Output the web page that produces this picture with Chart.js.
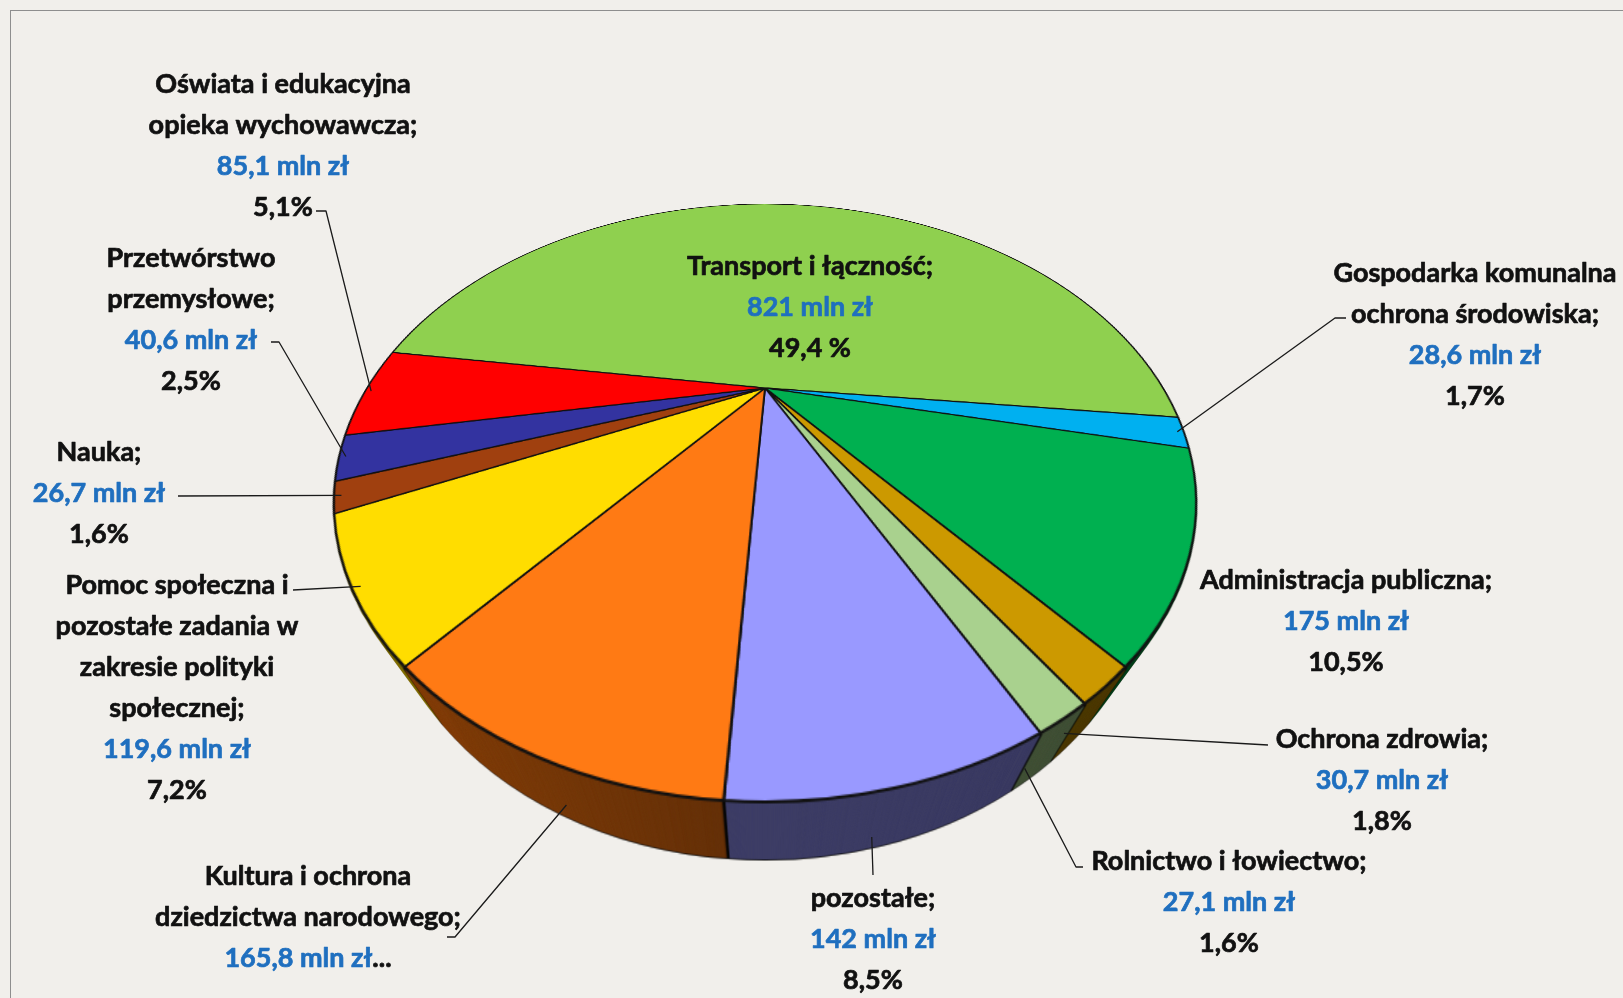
<!DOCTYPE html>
<html lang="pl">
<head>
<meta charset="utf-8">
<title>Struktura wydatków</title>
<script src="https://cdn.jsdelivr.net/npm/chart.js@4.4.1/dist/chart.umd.min.js"></script>
<style>
    html, body { margin: 0; padding: 0; overflow: hidden; background: #f1efeb; }
    #ramka { position: absolute; left: 10px; top: 10px; width: 1700px; height: 1100px; border: 1px solid #8e8e8e; }
    #wykres { position: absolute; left: 0; top: 0; }
</style>
</head>
<body>
<div id="ramka"></div>
<canvas id="wykres" width="1623" height="998"></canvas>
<script>
// Dane wykresu
const kategorie = [
    ['Transport i łączność'],
    ['Gospodarka komunalna', 'ochrona środowiska'],
    ['Administracja publiczna'],
    ['Ochrona zdrowia'],
    ['Rolnictwo i łowiectwo'],
    ['pozostałe'],
    ['Kultura i ochrona', 'dziedzictwa narodowego'],
    ['Pomoc społeczna i', 'pozostałe zadania w', 'zakresie polityki', 'społecznej'],
    ['Nauka'],
    ['Przetwórstwo', 'przemysłowe'],
    ['Oświata i edukacyjna', 'opieka wychowawcza']
];
const wartosci = [821, 28.6, 175, 30.7, 27.1, 142, 165.8, 119.6, 26.7, 40.6, 85.1];
const kwoty = ['821 mln zł', '28,6 mln zł', '175 mln zł', '30,7 mln zł', '27,1 mln zł', '142 mln zł',
    '165,8 mln zł', '119,6 mln zł', '26,7 mln zł', '40,6 mln zł', '85,1 mln zł'];
const procenty = ['49,4 %', '1,7%', '10,5%', '1,8%', '1,6%', '8,5%', '', '7,2%', '1,6%', '2,5%', '5,1%'];
const kolory = ['#8fd04f', '#00b0f0', '#00b050', '#cc9900', '#a9d18e', '#9999ff',
    '#ff7a14', '#ffdd00', '#a0400f', '#3333a0', '#ff0000'];

// Położenie etykiet i linii odniesienia
const etykiety = [
    { x: 810, y: 266 },
    { x: 1475, y: 273, linia: [[1346, 318], [1335, 318]] },
    { x: 1346, y: 580 },
    { x: 1382, y: 739, linia: [[1268, 745]], sciana: 0.95 },
    { x: 1229, y: 861, linia: [[1083, 867], [1076, 867]], sciana: 1 },
    { x: 873, y: 898, linia: [[873, 875]], sciana: 1, ulamek: 0.52 },
    { x: 308, y: 876, linia: [[447, 937], [455, 937]], sciana: 1, ulamek: 0.5, skrot: true },
    { x: 177, y: 585, linia: [[293, 590]] },
    { x: 99, y: 452, linia: [[178, 496]] },
    { x: 191, y: 258, linia: [[271, 342], [279, 342]] },
    { x: 283, y: 84, linia: [[316, 211], [326, 211]] }
];

// Perspektywa tarczy (widok z góry pod kątem)
const widok = { cx: 765, apexY: 388, a: 105.5, c: -0.3846, hR: 398 };
const GLEBOKOSC = 57;
const ZWEZENIE = 0.11;   // dolna krawędź ściany jest węższa (perspektywa)
const LINIA = 41;
const FONT = 'bold 27px Lato, "Open Sans", sans-serif';

function rzut(u, v) {
    const w = 1 + widok.c * v;
    return { x: widok.cx + widok.hR * u / w, y: (widok.a * v + widok.apexY) / w };
}

function vDlaY(y) {
    return (y - widok.apexY) / (widok.a - widok.c * y);
}

function nowePlotno(w, h) {
    const c = document.createElement('canvas');
    c.width = w; c.height = h;
    return c;
}

// przenosi okrągłe koło z src na płaszczyznę w perspektywie (wiersz po wierszu)
function przeksztalc(src, Cx, Cy, R, zrodloR) {
    const out = nowePlotno(src.width, src.height);
    const g = out.getContext('2d');
    const y0 = Math.floor(rzut(0, -1).y) - 3, y1 = Math.ceil(rzut(0, 1).y) + 3;
    const m = 4;
    for (let y = y0; y < y1; y++) {
        const v0 = vDlaY(y), v1 = vDlaY(y + 1);
        if (v1 < -1.02 || v0 > 1.02) continue;
        const k = widok.hR / (1 + widok.c * (v0 + v1) / 2);
        const sy = Cy + v0 * zrodloR, sh = Math.max((v1 - v0) * zrodloR, 0.5);
        const sw = zrodloR + m * zrodloR / R;
        g.drawImage(src, Cx - sw, sy, 2 * sw, sh,
            widok.cx - k * (1 + m / R), y, 2 * k * (1 + m / R), 1);
    }
    return out;
}

function przyciemnij(obraz, maska) {
    const out = nowePlotno(obraz.width, obraz.height);
    const d = out.getContext('2d');
    d.drawImage(obraz, 0, 0);
    if (maska) {
        d.globalCompositeOperation = 'destination-in';
        d.drawImage(maska, 0, 0);
    }
    d.globalCompositeOperation = 'source-atop';
    const cien = d.createLinearGradient(380, 0, 1120, 0);
    cien.addColorStop(0, 'rgba(0,0,0,0.48)');
    cien.addColorStop(0.45, 'rgba(0,0,0,0.6)');
    cien.addColorStop(1, 'rgba(0,0,0,0.62)');
    d.fillStyle = cien;
    d.fillRect(0, 0, out.width, out.height);
    return out;
}

const perspektywa = {
    id: 'perspektywa',
    afterDatasetsDraw(chart) {
        const luk = chart.getDatasetMeta(0).data[0];
        const R = luk.outerRadius, Cx = luk.x, Cy = luk.y;
        const cv = chart.canvas, ctx = chart.ctx;
        const W = cv.width, H = cv.height;

        const src = nowePlotno(W, H);
        src.getContext('2d').drawImage(cv, 0, 0);

        const gora = przeksztalc(src, Cx, Cy, R, R);
        // ściana boczna: wnętrze koła rozciągnięte do brzegu, przycięte do obrysu tarczy
        const sciana = przyciemnij(przeksztalc(src, Cx, Cy, R, R - 6), gora);
        const dol = przyciemnij(gora);

        ctx.save();
        ctx.setTransform(1, 0, 0, 1, 0, 0);
        ctx.clearRect(0, 0, W, H);
        const bx = 300, bw = 940, by = 190, bh = 640;
        for (let h = GLEBOKOSC; h >= 1; h--) {
            const s = 1 - ZWEZENIE * h / GLEBOKOSC;
            const obraz = h === GLEBOKOSC ? dol : sciana;
            ctx.drawImage(obraz, bx, by, bw, bh, widok.cx + (bx - widok.cx) * s, by + h, bw * s, bh);
        }
        ctx.drawImage(gora, 0, 0);
        ctx.restore();
    },
    afterDraw(chart) {
        const ctx = chart.ctx;
        const luki = chart.getDatasetMeta(0).data;
        ctx.save();
        ctx.font = FONT;
        ctx.textAlign = 'center';
        ctx.textBaseline = 'middle';
        ctx.lineJoin = 'round';
        ctx.lineWidth = 0.7;

        const pisz = (t, x, y, kolor) => {
            ctx.fillStyle = kolor;
            ctx.strokeStyle = kolor;
            ctx.fillText(t, x, y);
            ctx.strokeText(t, x, y);
        };

        etykiety.forEach((e, i) => {
            // linia odniesienia
            if (e.linia) {
                const el = luki[i];
                const f = e.ulamek === undefined ? 0.5 : e.ulamek;
                const kat = el.startAngle + (el.endAngle - el.startAngle) * f;
                const p = rzut(Math.cos(kat) * 0.985, Math.sin(kat) * 0.985);
                const gl = GLEBOKOSC * (e.sciana || 0);
                const s = 1 - ZWEZENIE * (e.sciana || 0);
                ctx.save();
                ctx.beginPath();
                ctx.strokeStyle = '#1a1a1a';
                ctx.lineWidth = 1.3;
                ctx.moveTo(e.linia[0][0], e.linia[0][1]);
                e.linia.slice(1).forEach(pt => ctx.lineTo(pt[0], pt[1]));
                ctx.lineTo(widok.cx + (p.x - widok.cx) * s, p.y + gl);
                ctx.stroke();
                ctx.restore();
            }
            // tekst
            let y = e.y;
            const nazwa = kategorie[i];
            nazwa.forEach((t, j) => {
                pisz(j === nazwa.length - 1 ? t + ';' : t, e.x, y, '#111');
                y += LINIA;
            });
            if (e.skrot) {
                const w1 = ctx.measureText(kwoty[i]).width, w2 = ctx.measureText('...').width;
                const x0 = e.x - (w1 + w2) / 2;
                ctx.textAlign = 'left';
                pisz(kwoty[i], x0, y, '#1f6fbf');
                pisz('...', x0 + w1, y, '#111');
                ctx.textAlign = 'center';
            } else {
                pisz(kwoty[i], e.x, y, '#1f6fbf');
            }
            y += LINIA;
            if (procenty[i]) pisz(procenty[i], e.x, y, '#111');
        });
        ctx.restore();
    }
};

new Chart(document.getElementById('wykres'), {
    type: 'pie',
    data: {
        labels: kategorie,
        datasets: [{
            data: wartosci,
            backgroundColor: kolory,
            borderColor: '#111',
            borderWidth: 2,
            clip: false
        }]
    },
    options: {
        responsive: false,
        animation: false,
        rotation: -81.5,
        layout: { padding: { left: 334, right: 427, top: 68, bottom: 68 } },
        plugins: {
            legend: { display: false },
            tooltip: { enabled: false }
        },
        events: []
    },
    plugins: [perspektywa]
});
</script>
</body>
</html>
